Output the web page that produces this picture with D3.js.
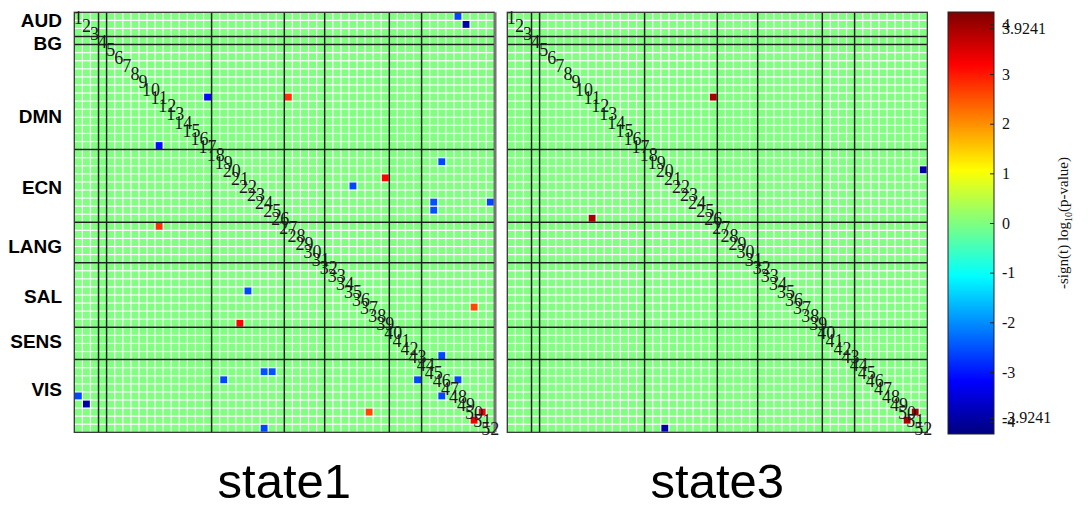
<!DOCTYPE html>
<html>
<head>
<meta charset="utf-8">
<script src="https://cdnjs.cloudflare.com/ajax/libs/d3/7.8.5/d3.min.js"></script>
<style>
	body { margin: 0; background: #fff; }
	svg { display: block; }
</style>
</head>
<body>
<div id="chart"></div>
<script>

// network names, last ROI index of each network, label row (in ROI units)
var networks = ['AUD', 'BG', 'DMN', 'ECN', 'LANG', 'SAL', 'SENS', 'VIS'];
var networkEnds = [3, 4, 17, 26, 31, 39, 43, 52];
var labelRows = [0.95, 3.8, 12.8, 21.6, 28.9, 35.1, 40.7, 46.6];

var nRoi = 52;
var panels = ['state1', 'state3'];

// significant connections: [roi i, roi j, -sign(t) log10(p)]
var state1Edges = [
	[1, 48, -2.6], [2, 49, -3.9], [11, 17, -3.1], [11, 27, 2.8],
	[19, 46, -2.6], [21, 39, 3.2], [22, 35, -2.6], [24, 45, -2.5],
	[25, 45, -2.5], [24, 52, -2.6], [37, 50, 2.6], [43, 46, -2.6],
	[46, 48, -2.6], [50, 51, 3.3]
];
var state3Edges = [
	[11, 26, 3.9241], [20, 52, -3.9241], [50, 51, 3.9241]
];

var cbDomain = [-4.25, 4.25];
var cbTicks = [-4, -3, -2, -1, 0, 1, 2, 3, 4];
var cbExtraTicks = [-3.9241, 3.9241];

var W = 1090, H = 521;
var top0 = 12.3, size = 420;
var panelX = [74.3, 507.3];

function jet(v) {
	var t = (v - cbDomain[0]) / (cbDomain[1] - cbDomain[0]);
	function c(a) { return Math.round(255 * Math.max(0, Math.min(1, 1.5 - Math.abs(4 * t - a)))); }
	return d3.rgb(c(3), c(2), c(1)) + '';
}

function buildMatrix(edges) {
	var m = d3.range(nRoi).map(function() { return d3.range(nRoi).map(function() { return 0; }); });
	edges.forEach(function(e) {
		m[e[0]-1][e[1]-1] = e[2];
		m[e[1]-1][e[0]-1] = e[2];
	});
	var cells = [];
	for (var i=0; i<nRoi; i++) {
		for (var j=0; j<nRoi; j++) {
			cells.push({r: i+1, c: j+1, v: m[i][j]});
		}
	}
	return cells;
}

var svg = d3.select('#chart').append('svg')
	.attr('width', W)
	.attr('height', H);

var rois = d3.range(1, nRoi+1);
var y = d3.scaleBand().domain(rois).range([top0, top0 + size]);

[state1Edges, state3Edges].forEach(function(edges, p) {

	var x = d3.scaleBand().domain(rois).range([panelX[p], panelX[p] + size]);
	var g = svg.append('g').attr('class', 'panel');
	var bw = x.bandwidth();

	g.append('rect')
		.attr('x', panelX[p]).attr('y', top0)
		.attr('width', size).attr('height', size)
		.attr('fill', '#fff');

	g.selectAll('rect.cell')
		.data(buildMatrix(edges))
		.enter().append('rect')
		.attr('class', 'cell')
		.attr('x', function(d) { return x(d.c) + 0.6; })
		.attr('y', function(d) { return y(d.r) + 0.6; })
		.attr('width', bw - 1.2)
		.attr('height', bw - 1.2)
		.attr('fill', function(d) { return jet(d.v); });

	// network boundaries
	networkEnds.slice(0, -1).forEach(function(n) {
		var px = x(n) + bw, py = y(n) + bw;
		g.append('line')
			.attr('x1', px).attr('x2', px)
			.attr('y1', top0).attr('y2', top0 + size)
			.attr('stroke', '#1e1e1e').attr('stroke-width', 1.5);
		g.append('line')
			.attr('x1', panelX[p]).attr('x2', panelX[p] + size)
			.attr('y1', py).attr('y2', py)
			.attr('stroke', '#1e1e1e').attr('stroke-width', 1.5);
	});

	// frame
	g.append('rect')
		.attr('x', panelX[p]).attr('y', top0)
		.attr('width', size).attr('height', size)
		.attr('fill', 'none')
		.attr('stroke', '#333').attr('stroke-width', 1.3);
	if (p == 0) {
		g.append('line')
			.attr('x1', panelX[p] + size + 1).attr('x2', panelX[p] + size + 1)
			.attr('y1', top0).attr('y2', top0 + size)
			.attr('stroke', '#777').attr('stroke-width', 2.5);
	}

	// diagonal roi numbers
	g.selectAll('text.roi')
		.data(rois)
		.enter().append('text')
		.attr('class', 'roi')
		.attr('x', function(d) { return x(d) + bw/2; })
		.attr('y', function(d) { return y(d) + bw/2; })
		.attr('dy', '0.4em')
		.attr('text-anchor', 'middle')
		.style('font-family', '"Liberation Serif", "Times New Roman", serif')
		.style('font-size', '18px')
		.attr('fill', '#1a1a1a')
		.text(function(d) { return d; });

	// panel title
	svg.append('text')
		.attr('x', panelX[p] + size/2)
		.attr('y', 498)
		.attr('text-anchor', 'middle')
		.style('font-family', '"Liberation Sans", Arial, sans-serif')
		.style('font-size', '49px')
		.attr('fill', '#000')
		.text(panels[p]);
});

// network labels
svg.selectAll('text.net')
	.data(networks)
	.enter().append('text')
	.attr('class', 'net')
	.attr('x', 62)
	.attr('y', function(d, i) { return top0 + labelRows[i] * y.step(); })
	.attr('dy', '0.36em')
	.attr('text-anchor', 'end')
	.style('font-family', '"Liberation Sans", Arial, sans-serif')
	.style('font-weight', 'bold')
	.style('font-size', '19px')
	.attr('fill', '#000')
	.text(function(d) { return d; });

// colorbar
var cbX = 948, cbW = 46, cbTop = 12, cbBottom = 434;
var cy = d3.scaleLinear().domain(cbDomain).range([cbBottom, cbTop]);

var defs = svg.append('defs');
var grad = defs.append('linearGradient')
	.attr('id', 'jetgrad')
	.attr('x1', 0).attr('y1', 1).attr('x2', 0).attr('y2', 0);
d3.range(0, 1.0001, 1/64).forEach(function(t) {
	grad.append('stop')
		.attr('offset', t)
		.attr('stop-color', jet(cbDomain[0] + t * (cbDomain[1] - cbDomain[0])));
});

svg.append('rect')
	.attr('x', cbX).attr('y', cbTop)
	.attr('width', cbW).attr('height', cbBottom - cbTop)
	.attr('fill', 'url(#jetgrad)')
	.attr('stroke', '#222').attr('stroke-width', 1);

var cbAxis = d3.axisRight(cy)
	.tickValues(cbTicks.concat(cbExtraTicks))
	.tickSize(-4)
	.tickPadding(8)
	.tickFormat(function(d) { return String(d); });

var cbAxisG = svg.append('g')
	.attr('transform', 'translate(' + (cbX + cbW) + ',0)')
	.call(cbAxis);
cbAxisG.select('.domain').remove();
cbAxisG.selectAll('line').attr('stroke', '#222');
cbAxisG.selectAll('text')
	.style('font-family', '"Liberation Serif", "Times New Roman", serif')
	.style('font-size', '16px')
	.attr('fill', '#111');

var cbLabel = svg.append('text')
	.attr('transform', 'translate(1068,' + cy(0) + ') rotate(-90)')
	.attr('text-anchor', 'middle')
	.style('font-family', '"Liberation Serif", "Times New Roman", serif')
	.style('font-size', '15px')
	.attr('fill', '#111');
cbLabel.append('tspan').text('-sign(t) log');
cbLabel.append('tspan').attr('dy', 4).style('font-size', '10px').text('10');
cbLabel.append('tspan').attr('dy', -4).text('(p-value)');

</script>
</body>
</html>
